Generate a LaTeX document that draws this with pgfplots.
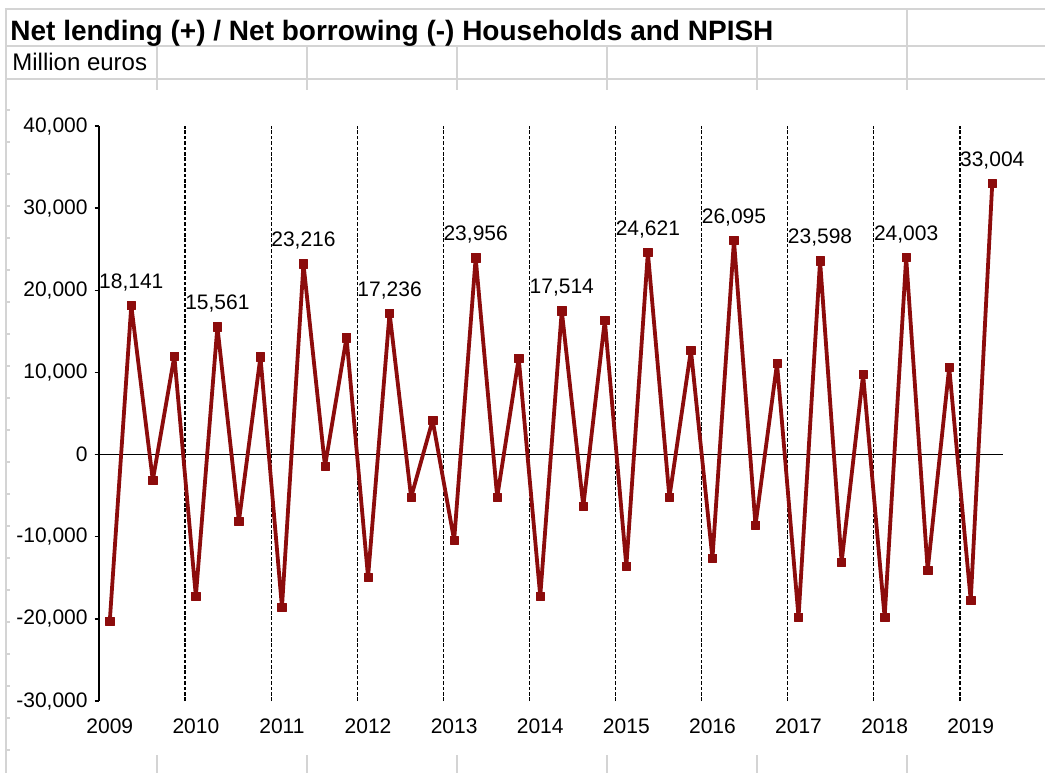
\documentclass[border=0pt]{standalone}
\usepackage{fontspec}
\setmainfont{Liberation Sans}
\usepackage{pgfplots}
\usepackage{pgfplotstable}
\pgfplotsset{compat=1.18}
\definecolor{linered}{RGB}{140,12,12}
\definecolor{cellgrid}{RGB}{212,212,212}

% quarterly values, 2009Q1 .. 2019Q2 (index 0..41)
\pgfplotstableread{
idx val
0 -20290
1 18141
2 -3130
3 11970
4 -17250
5 15561
6 -8120
7 11900
8 -18590
9 23216
10 -1420
11 14240
12 -14930
13 17236
14 -5190
15 4180
16 -10430
17 23956
18 -5190
19 11730
20 -17250
21 17514
22 -6290
23 16350
24 -13590
25 24621
26 -5190
27 12700
28 -12620
29 26095
30 -8600
31 11080
32 -19800
33 23598
34 -13110
35 9740
36 -19800
37 24003
38 -14080
39 10630
40 -17740
41 33004
}\quarters

% labelled Q2 points
\pgfplotstableread{
idx val lab
1 18141 18,141
5 15561 15,561
9 23216 23,216
13 17236 17,236
17 23956 23,956
21 17514 17,514
25 24621 24,621
29 26095 26,095
33 23598 23,598
37 24003 24,003
41 33004 33,004
}\peaks

\begin{document}
\begin{tikzpicture}
% spreadsheet cell lines, in pixels of the 1045x773 frame
\begin{scope}[x=0.5bp,y=-0.5bp]
\useasboundingbox (0,0) rectangle (1045,773);
\begin{scope}[draw=cellgrid, line width=1bp]
\draw (5,9) -- (1045,9);
\draw (5,46) -- (1045,46);
\draw (5,79) -- (1045,79);
\draw (6,9) -- (6,773);
\draw (907,9) -- (907,90);
\foreach \x in {157,307,457,607,757} \draw (\x,46) -- (\x,90);
\foreach \x in {157,307,457,607,757,907} \draw (\x,755) -- (\x,773);
\foreach \k in {0,...,20} \draw (6,110+32*\k) -- (10,110+32*\k);
\end{scope}
\node[anchor=base west, inner sep=0, font=\bfseries\fontsize{14bp}{16bp}\selectfont]
  at (10,40) {Net lending (+) / Net borrowing (-) Households and NPISH};
\node[anchor=base west, inner sep=0, font=\fontsize{12bp}{14bp}\selectfont]
  at (12,71) {Million euros};
\end{scope}

\begin{axis}[
  at={(49.5bp,-350.5bp)}, anchor=south west,
  scale only axis, width=452bp, height=287.5bp,
  xmin=-0.5, xmax=41.5, ymin=-30000, ymax=40000,
  scaled y ticks=false,
  axis x line*=bottom, axis y line*=left,
  x axis line style={draw=none},
  y axis line style={black, line width=0.75bp},
  xtick={0,4,...,40},
  xticklabels={2009,2010,2011,2012,2013,2014,2015,2016,2017,2018,2019},
  xtick style={draw=none},
  ytick={-30000,-20000,...,40000},
  yticklabels={{-30,000},{-20,000},{-10,000},0,{10,000},{20,000},{30,000},{40,000}},
  tick align=outside, major tick length=2.2bp,
  ytick style={black, line width=0.75bp},
  ticklabel style={font=\fontsize{10.5bp}{12bp}\selectfont},
  xticklabel style={yshift=-3bp},
  extra x ticks={3.5,7.5,...,39.5},
  extra x tick labels={},
  extra x tick style={grid=major, major grid style={black, line width=0.6bp, dash pattern=on 1.8bp off 0.9bp}, tick style={draw=none}},
  extra y ticks={0}, extra y tick labels={},
  extra y tick style={grid=major, major grid style={black, line width=0.75bp}},
  clip=false,
]
\addplot[linered, line width=1.9bp, line join=round, mark=square*, mark size=2.1bp,
  mark options={solid, fill=linered, draw=linered, line width=0.3bp}]
  table[x=idx, y=val] {\quarters};
\addplot[draw=none, mark=none, nodes near coords, point meta=explicit symbolic,
  every node near coord/.append style={anchor=base, inner sep=0, yshift=8.5bp,
    font=\fontsize{10.5bp}{12bp}\selectfont, text=black}]
  table[x=idx, y=val, meta=lab] {\peaks};
\end{axis}
\end{tikzpicture}
\end{document}
